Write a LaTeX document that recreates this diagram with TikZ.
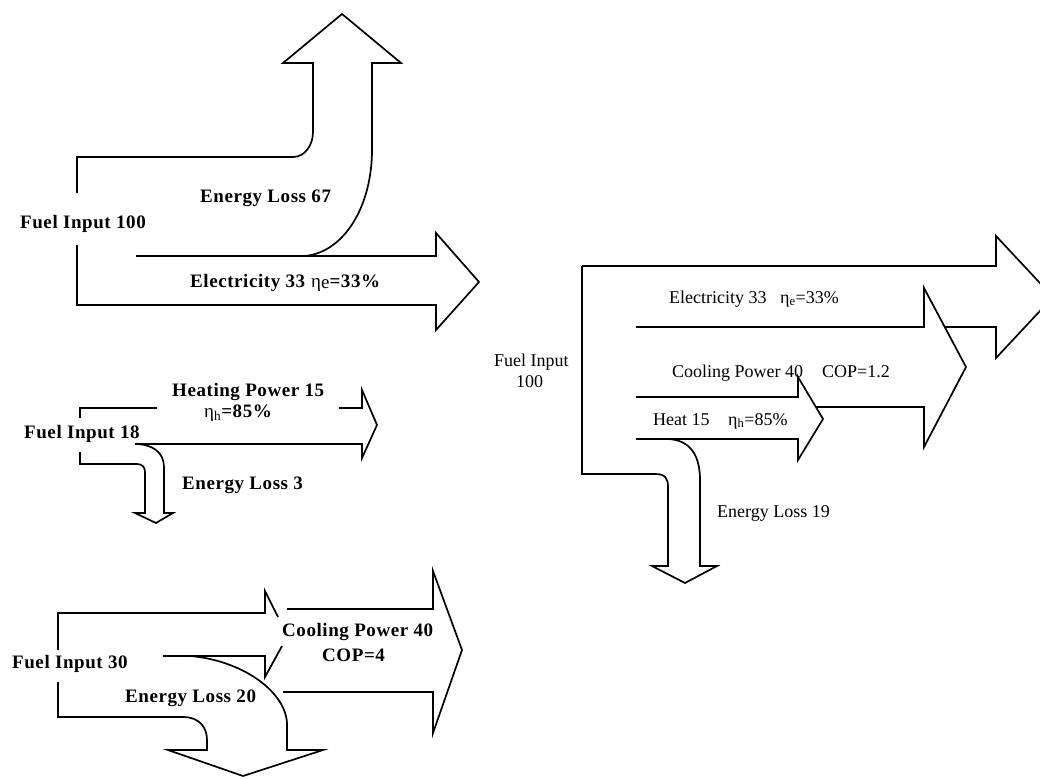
\documentclass[tikz,border=0pt]{standalone}
\usepackage{fontspec}
\setmainfont{Liberation Serif}
\newfontfamily\boldlabel[LetterSpace=3]{Liberation Serif}
\begin{document}
\begin{tikzpicture}[x=1pt,y=-1pt,
  flow/.style={line width=1.7pt, line join=miter, line cap=butt},
  lbl/.style={font={\boldlabel\bfseries\fontsize{19}{22}\selectfont}, inner sep=0pt, anchor=base west},
  rlbl/.style={font={\fontsize{18}{21}\selectfont}, inner sep=0pt, anchor=base west}]
\useasboundingbox (0,0) rectangle (1040,778);
\fill[white] (0,0) rectangle (1040,778);
\clip (0,0) rectangle (1040,778);

% ---- conventional power plant: fuel 100 -> electricity 33 + loss 67
\draw[flow] (77,193) -- (77,157) -- (293,157) .. controls (305,157) and (313,145) .. (313,132)
  -- (313,63) -- (283,63) -- (342,14) -- (401,63) -- (372,63) -- (372,150)
  .. controls (372,205) and (345,252) .. (305,256);
\draw[flow] (77,245) -- (77,305) -- (436,305) -- (436,330) -- (479,282) -- (436,233) -- (436,256) -- (136,256);

% ---- boiler: fuel 18 -> heating 15 + loss 3
\draw[flow] (80,418) -- (80,408) -- (157,408);
\draw[flow] (339,408) -- (362,408) -- (362,390) -- (377,425) -- (362,458) -- (362,444) -- (135,444);
\draw[flow] (80,452) -- (80,464) -- (137,464) .. controls (142,464) and (145,467) .. (145,472)
  -- (145,513) -- (135,513) -- (156,523) -- (173,513) -- (164,513) -- (164,467)
  .. controls (164,452) and (152,444) .. (135,444);

% ---- electric chiller: fuel 30 -> cooling 40 + loss 20
\draw[flow] (58,650) -- (58,613) -- (265,613) -- (265,591) -- (278,617);
\draw[flow] (282,646) -- (265,677) -- (265,656) -- (163,656);
\draw[flow] (287,609) -- (433,609) -- (433,571) -- (462,650) -- (433,733) -- (433,692) -- (283,692);
\draw[flow] (58,682) -- (58,717) -- (183,717) .. controls (200,717) and (207,728) .. (207,740)
  -- (207,750) -- (168,750) -- (243,776) -- (323,750) -- (287,750) -- (287,723)
  .. controls (285,690) and (240,660) .. (190,656);

% ---- trigeneration: fuel 100 -> electricity, cooling, heat + loss 19
\fill[white] (636,266) -- (996,266) -- (996,236) -- (1053,297) -- (996,358) -- (996,327) -- (636,327) -- cycle;
\draw[flow] (582,266) -- (996,266) -- (996,236) -- (1053,297) -- (996,358) -- (996,327) -- (636,327);
\fill[white] (636,327) -- (924,327) -- (924,288) -- (966,367) -- (924,447) -- (924,407) -- (636,407) -- cycle;
\draw[flow] (636,327) -- (924,327) -- (924,288) -- (966,367) -- (924,447) -- (924,407) -- (636,407);
\fill[white] (636,397) -- (798,397) -- (798,377) -- (823,419) -- (798,460) -- (798,439) -- (636,439) -- cycle;
\draw[flow] (636,397) -- (798,397) -- (798,377) -- (823,419) -- (798,460) -- (798,439) -- (636,439);
\draw[flow] (582,266) -- (582,474) -- (655,474) .. controls (665,474) and (668,478) .. (668,487)
  -- (668,566) -- (652,566) -- (685,583) -- (717,566) -- (700,566) -- (700,480)
  .. controls (700,455) and (690,440) .. (668,439);

% ---- labels
\node[lbl] (tlFuel) at (20,228) {Fuel Input 100};
\node[lbl] (tlLoss) at (200,202) {Energy Loss 67};
\node[lbl] (tlElec) at (190,287) {Electricity 33};
\node[lbl] (tlEta) at (311,287) {{\mdseries η\raisebox{-1pt}{e}}=33\%};

\node[lbl] (mlHeat) at (172,396) {Heating Power 15};
\node[lbl] (mlEta) at (204,417) {{\mdseries η\textsubscript{h}}=85\%};
\node[lbl] (mlFuel) at (24,438) {Fuel Input 18};
\node[lbl] (mlLoss) at (182,489) {Energy Loss 3};

\node[lbl] (blCool) at (282,636) {Cooling Power 40};
\node[lbl] (blCop) at (322,661) {COP=4};
\node[lbl] (blFuel) at (12,668) {Fuel Input 30};
\node[lbl] (blLoss) at (125,702) {Energy Loss 20};

\node[rlbl] (rFuel) at (494,366) {Fuel Input};
\node[rlbl] (rHundred) at (516,387) {100};
\node[rlbl] (rElec) at (669,303) {Electricity 33};
\node[rlbl] (rEtaE) at (780,303) {η\textsubscript{e}=33\%};
\node[rlbl] (rCool) at (672,377) {Cooling Power 40};
\node[rlbl] (rCop) at (822,377) {COP=1.2};
\node[rlbl] (rHeat) at (653,425) {Heat 15};
\node[rlbl] (rEtaH) at (728,425) {η\textsubscript{h}=85\%};
\node[rlbl] (rLoss) at (717,517) {Energy Loss 19};
\end{tikzpicture}
\end{document}
